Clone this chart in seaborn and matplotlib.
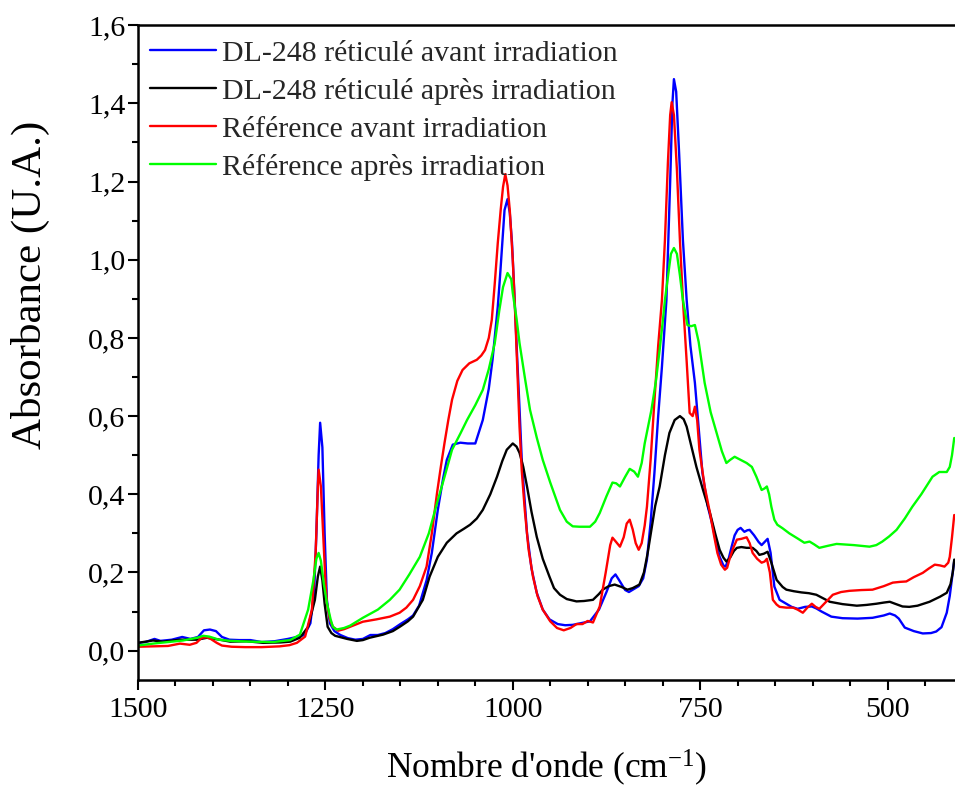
import numpy as np
import pandas as pd
import matplotlib
matplotlib.use("Agg")
import matplotlib.pyplot as plt
from matplotlib.ticker import MultipleLocator
import seaborn as sns

# Spectra: wavenumber (cm-1) and absorbance for each sample
w_dl_avant = [1500, 1490, 1478, 1470, 1455, 1441, 1430, 1420, 1412, 1404, 1396, 1388, 1378, 1365,
              1350, 1335, 1318, 1300, 1288, 1278, 1270, 1265, 1262, 1259, 1257, 1254, 1251, 1248,
              1244, 1238, 1230, 1220, 1210, 1200, 1190, 1180, 1170, 1160, 1150, 1140, 1133, 1125,
              1115, 1108, 1100, 1093, 1088, 1080, 1070, 1060, 1050, 1040, 1032, 1027, 1020, 1017,
              1011, 1007, 1004, 1001, 998, 995, 991, 988, 984, 981, 975, 968, 960, 951, 940, 930,
              920, 910, 897, 885, 875, 868, 863, 858, 850, 845, 838, 832, 826, 821, 816, 811, 806,
              801, 795, 790, 787, 785, 782, 778, 773, 768, 763, 757, 752, 747, 740, 733, 728, 724,
              719, 716, 712, 708, 704, 700, 696, 691, 687, 684, 678, 672, 668, 664, 660, 656, 651,
              644, 637, 628, 620, 610, 601, 595, 588, 575, 560, 540, 520, 505, 497, 490, 485, 477,
              465, 453, 442, 435, 428, 421, 417, 413, 411]
a_dl_avant = [0.020, 0.022, 0.030, 0.025, 0.028, 0.035, 0.030, 0.035, 0.052, 0.054, 0.050, 0.035, 0.028, 0.027,
              0.027, 0.022, 0.024, 0.030, 0.035, 0.040, 0.070, 0.150, 0.300, 0.500, 0.583, 0.520, 0.300, 0.130,
              0.070, 0.050, 0.040, 0.032, 0.028, 0.030, 0.040, 0.040, 0.045, 0.055, 0.068, 0.080, 0.090, 0.115,
              0.180, 0.250, 0.360, 0.440, 0.488, 0.527, 0.532, 0.530, 0.530, 0.590, 0.670, 0.744, 0.880, 0.957,
              1.127, 1.155, 1.120, 1.043, 0.920, 0.787, 0.620, 0.488, 0.380, 0.300, 0.210, 0.148, 0.105, 0.080, 0.068, 0.065,
              0.066, 0.070, 0.075, 0.105, 0.150, 0.185, 0.195, 0.180, 0.155, 0.150, 0.158, 0.165, 0.185, 0.233, 0.330, 0.455, 0.600,
              0.726, 0.897, 1.200, 1.400, 1.462, 1.430, 1.270, 1.050, 0.897, 0.780, 0.685, 0.570, 0.455, 0.370, 0.317, 0.270, 0.240,
              0.218, 0.215, 0.235, 0.266, 0.295, 0.309, 0.314, 0.304, 0.308, 0.309, 0.295, 0.278, 0.270, 0.278, 0.286, 0.250, 0.164,
              0.130, 0.122, 0.112, 0.107, 0.112, 0.113, 0.108, 0.100, 0.087, 0.083, 0.082, 0.084, 0.090, 0.095, 0.090, 0.082, 0.059,
              0.050, 0.044, 0.045, 0.049, 0.060, 0.097, 0.140, 0.200, 0.230]

w_dl_apres = [1500, 1480, 1467, 1444, 1421, 1408, 1391, 1377, 1355, 1333, 1310, 1297, 1284, 1273, 1264,
              1260, 1257, 1254, 1251, 1247, 1242, 1237, 1221, 1208, 1200, 1191, 1173, 1160, 1150, 1140,
              1133, 1120, 1111, 1100, 1088, 1075, 1065, 1057, 1048, 1040, 1030, 1021, 1014, 1008, 1000,
              995, 991, 986, 981, 975, 968, 960, 951, 945, 937, 928, 915, 905, 893, 885, 880, 872, 864,
              855, 847, 840, 831, 825, 820, 815, 810, 804, 797, 791, 784, 777, 772, 768, 762, 755, 746,
              737, 730, 724, 719, 715, 710, 705, 701, 695, 688, 680, 675, 671, 665, 660, 655, 648, 640,
              635, 625, 615, 605, 595, 585, 577, 560, 541, 528, 515, 505, 497, 490, 480, 471, 460, 444,
              430, 421, 416, 413, 411]
a_dl_apres = [0.020, 0.026, 0.023, 0.028, 0.028, 0.033, 0.028, 0.023, 0.024, 0.020, 0.021, 0.023, 0.033, 0.061, 0.130,
              0.190, 0.215, 0.180, 0.120, 0.061, 0.045, 0.038, 0.030, 0.025, 0.027, 0.033, 0.041, 0.050, 0.062, 0.075,
              0.087, 0.130, 0.189, 0.240, 0.276, 0.300, 0.312, 0.322, 0.338, 0.360, 0.400, 0.445, 0.485, 0.514, 0.530,
              0.522, 0.506, 0.470, 0.420, 0.355, 0.291, 0.235, 0.189, 0.160, 0.143, 0.132, 0.126, 0.127, 0.130, 0.145, 0.156, 0.165, 0.169,
              0.163, 0.156, 0.160, 0.169, 0.200, 0.250, 0.310, 0.370, 0.420, 0.500, 0.557, 0.590, 0.600, 0.592, 0.573, 0.525, 0.470, 0.410,
              0.353, 0.300, 0.258, 0.238, 0.228, 0.238, 0.255, 0.263, 0.265, 0.263, 0.263, 0.255, 0.245, 0.248, 0.253, 0.225, 0.181, 0.163,
              0.156, 0.152, 0.149, 0.147, 0.143, 0.133, 0.125, 0.119, 0.115, 0.117, 0.120, 0.123, 0.125, 0.120, 0.113, 0.112, 0.115, 0.125,
              0.138, 0.148, 0.170, 0.200, 0.233]

w_ref_avant = [1500, 1480, 1460, 1444, 1431, 1422, 1415, 1408, 1403, 1395, 1388, 1375, 1357, 1335, 1311,
               1298, 1288, 1277, 1268, 1263, 1260, 1259, 1256, 1253, 1250, 1248, 1244, 1240, 1233, 1225,
               1217, 1200, 1182, 1164, 1151, 1142, 1133, 1124, 1115, 1108, 1101, 1096, 1091, 1086, 1081,
               1074, 1067, 1058, 1048, 1042, 1037, 1032, 1028, 1024, 1020, 1016, 1013, 1010, 1007, 1004,
               1000, 997, 994, 991, 988, 984, 979, 973, 967, 960, 950, 941, 932, 923, 915, 907, 900, 893,
               884, 876, 870, 867, 863, 857, 852, 848, 844, 840, 836, 832, 828, 824, 821, 816, 811, 806,
               801, 797, 793, 790, 788, 785, 781, 777, 773, 768, 764, 760, 757, 754, 751, 744, 737, 732,
               727, 722, 717, 714, 711, 706, 701, 695, 688, 684, 680, 674, 668, 664, 661, 657, 653, 648,
               644, 635, 626, 620, 613, 607, 601, 596, 591, 582, 573, 562, 551, 535, 520, 505, 493, 483,
               475, 465, 453, 445, 437, 430, 424, 419, 417, 414, 411]
a_ref_avant = [0.010, 0.011, 0.012, 0.018, 0.015, 0.020, 0.033, 0.034, 0.030, 0.020, 0.013, 0.010, 0.009, 0.009, 0.011,
               0.014, 0.020, 0.036, 0.105, 0.250, 0.420, 0.463, 0.420, 0.300, 0.180, 0.122, 0.080, 0.061, 0.051, 0.055,
               0.061, 0.074, 0.080, 0.087, 0.097, 0.110, 0.130, 0.165, 0.215, 0.300, 0.404, 0.470, 0.532, 0.590, 0.642,
               0.690, 0.718, 0.735, 0.744, 0.755, 0.769, 0.800, 0.846, 0.940, 1.043, 1.130, 1.186, 1.219, 1.190, 1.127,
               1.000, 0.872, 0.720, 0.573, 0.460, 0.360, 0.260, 0.189, 0.140, 0.105, 0.075, 0.058, 0.052, 0.058, 0.068, 0.068, 0.076, 0.072,
               0.113, 0.200, 0.270, 0.289, 0.280, 0.266, 0.290, 0.325, 0.335, 0.310, 0.275, 0.258, 0.275, 0.320, 0.368, 0.490, 0.640, 0.780,
               0.897, 1.050, 1.250, 1.370, 1.403, 1.370, 1.230, 1.050, 0.897, 0.740, 0.608, 0.600, 0.624, 0.590, 0.514, 0.420, 0.353, 0.300,
               0.250, 0.220, 0.207, 0.212, 0.233, 0.262, 0.284, 0.286, 0.290, 0.275, 0.250, 0.235, 0.225, 0.228, 0.235, 0.200, 0.130, 0.118,
               0.112, 0.110, 0.110, 0.105, 0.097, 0.110, 0.120, 0.112, 0.107, 0.125, 0.143, 0.150, 0.153, 0.155, 0.156, 0.165, 0.174, 0.176,
               0.177, 0.188, 0.199, 0.210, 0.220, 0.218, 0.215, 0.225, 0.240, 0.290, 0.347]

w_ref_apres = [1500, 1480, 1460, 1440, 1421, 1413, 1405, 1392, 1377, 1350, 1320, 1297, 1284, 1273, 1266,
               1262, 1259, 1256, 1252, 1248, 1243, 1240, 1235, 1225, 1217, 1200, 1180, 1164, 1151, 1138,
               1124, 1112, 1101, 1091, 1081, 1070, 1061, 1050, 1040, 1032, 1024, 1018, 1013, 1007, 1002,
               1000, 995, 991, 984, 977, 968, 960, 950, 937, 928, 920, 911, 897, 890, 884, 875, 867, 862,
               857, 850, 844, 838, 833, 828, 824, 815, 809, 804, 800, 797, 792, 789, 785, 781, 777, 773,
               767, 762, 757, 752, 744, 736, 728, 721, 715, 710, 704, 698, 688, 681, 675, 668, 664, 661,
               658, 655, 651, 647, 640, 631, 620, 611, 604, 598, 591, 580, 568, 545, 524, 515, 507, 498,
               488, 477, 467, 455, 440, 431, 425, 421, 417, 414, 411]
a_ref_apres = [0.013, 0.018, 0.022, 0.026, 0.033, 0.038, 0.036, 0.028, 0.025, 0.023, 0.022, 0.027, 0.041, 0.105, 0.180,
               0.235, 0.250, 0.230, 0.170, 0.122, 0.080, 0.061, 0.054, 0.058, 0.064, 0.084, 0.105, 0.130, 0.156, 0.195,
               0.240, 0.300, 0.378, 0.445, 0.514, 0.555, 0.590, 0.628, 0.667, 0.720, 0.787, 0.870, 0.930, 0.966, 0.950,
               0.915, 0.850, 0.787, 0.700, 0.616, 0.545, 0.488, 0.430, 0.360, 0.330, 0.318, 0.317, 0.317, 0.330, 0.352, 0.395, 0.430, 0.428,
               0.420, 0.445, 0.465, 0.458, 0.445, 0.480, 0.530, 0.616, 0.690, 0.770, 0.840, 0.897, 0.970, 1.015, 1.030, 1.015, 0.960, 0.897,
               0.833, 0.830, 0.833, 0.790, 0.685, 0.610, 0.557, 0.510, 0.480, 0.488, 0.496, 0.490, 0.480, 0.470, 0.445, 0.411, 0.415, 0.420,
               0.400, 0.368, 0.335, 0.322, 0.313, 0.300, 0.287, 0.276, 0.279, 0.272, 0.263, 0.268, 0.273, 0.270, 0.266, 0.270, 0.279, 0.292,
               0.309, 0.338, 0.368, 0.400, 0.445, 0.457, 0.457, 0.457, 0.470, 0.500, 0.544]

labels = ["DL-248 réticulé avant irradiation",
          "DL-248 réticulé après irradiation",
          "Référence avant irradiation",
          "Référence après irradiation"]
colors = ["#0000ff", "#000000", "#ff0000", "#00ff00"]

x_ticks = [1500, 1250, 1000, 750, 500]
y_ticks = [0.0, 0.2, 0.4, 0.6, 0.8, 1.0, 1.2, 1.4, 1.6]
y_tick_labels = ["0,0", "0,2", "0,4", "0,6", "0,8", "1,0", "1,2", "1,4", "1,6"]

frames = []
for lab, w, a in zip(labels,
                     [w_dl_avant, w_dl_apres, w_ref_avant, w_ref_apres],
                     [a_dl_avant, a_dl_apres, a_ref_avant, a_ref_apres]):
    frames.append(pd.DataFrame({"w": w, "a": a, "serie": lab}))
df = pd.concat(frames, ignore_index=True)

sns.set_theme(style="ticks")
plt.rcParams["font.family"] = ["Liberation Serif", "DejaVu Serif"]
plt.rcParams["mathtext.fontset"] = "custom"
plt.rcParams["mathtext.rm"] = "Liberation Serif"
plt.rcParams["mathtext.it"] = "Liberation Serif:italic"

fig = plt.figure(figsize=(9.55, 7.87), dpi=100)
ax = fig.add_axes([0.1445, 0.136, 0.8555, 0.832])

sns.lineplot(data=df, x="w", y="a", hue="serie", hue_order=labels,
             palette=dict(zip(labels, colors)), sort=False, estimator=None,
             linewidth=1.7, ax=ax)

ax.set_xlim(1500, 410)
ax.set_ylim(-0.075, 1.6)
ax.set_xticks(x_ticks)
ax.set_xticklabels([str(t) for t in x_ticks])
ax.xaxis.set_minor_locator(MultipleLocator(50))
ax.set_yticks(y_ticks)
ax.set_yticklabels(y_tick_labels)
ax.yaxis.set_minor_locator(MultipleLocator(0.1))

ax.tick_params(axis="both", which="major", direction="out", length=7, width=1.5,
               labelsize=21.5, color="black", labelcolor="black")
ax.tick_params(axis="both", which="minor", direction="out", length=4, width=1.5, color="black")
ax.tick_params(axis="x", which="major", pad=5)
ax.tick_params(axis="y", which="major", pad=2)

for side in ["left", "bottom", "top"]:
    ax.spines[side].set_linewidth(1.8)
    ax.spines[side].set_color("black")
ax.spines["right"].set_visible(False)

ax.set_xlabel("Nombre d'onde (cm$^{-1}$)", fontsize=25.5, labelpad=18, color="black")
ax.set_ylabel("Absorbance (U.A.)", fontsize=31, color="black")
ax.yaxis.set_label_coords(-0.108, 0.603)

leg = ax.legend(loc="upper left", frameon=False, fontsize=21.5, handlelength=2.2,
                handletextpad=0.2, labelspacing=0.37, borderaxespad=0.0,
                bbox_to_anchor=(0.0, 0.996))
for line in leg.get_lines():
    line.set_linewidth(1.7)

fig.savefig("out.png", dpi=100)
